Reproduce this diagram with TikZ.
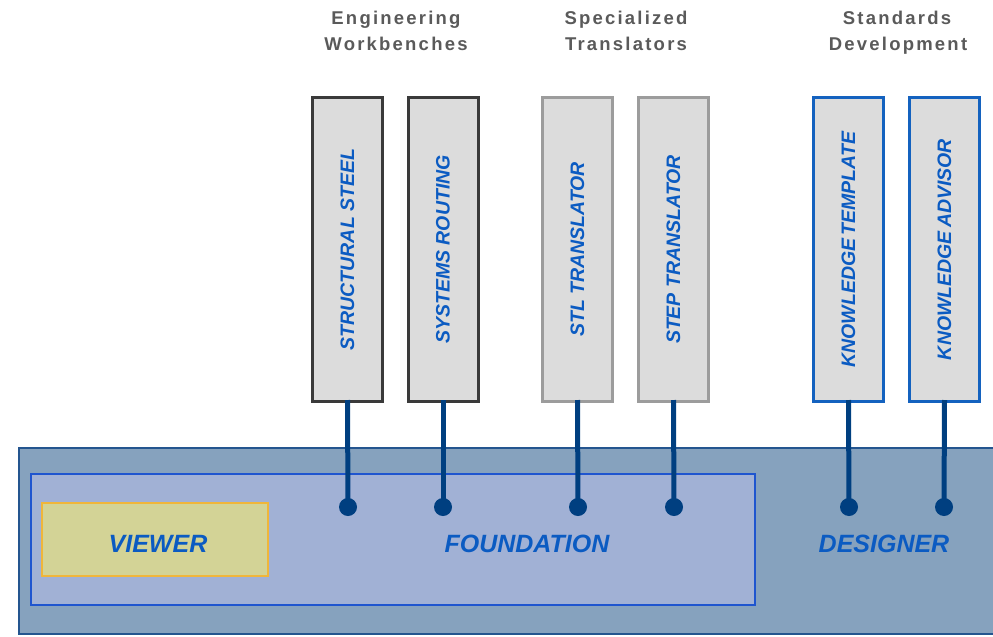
\documentclass[tikz,border=0pt]{standalone}
\usepackage{fontspec}
\setmainfont{Liberation Sans}
\newfontfamily\headfont[LetterSpace=12]{Liberation Sans}

\definecolor{platformfill}{HTML}{86A2BE}
\definecolor{platformline}{HTML}{24558F}
\definecolor{basefill}{HTML}{A1B1D5}
\definecolor{baseline}{HTML}{1F55CF}
\definecolor{viewerfill}{HTML}{D3D396}
\definecolor{viewerline}{HTML}{F0B63A}
\definecolor{modfill}{HTML}{DCDCDC}
\definecolor{darkline}{HTML}{3A3A3A}
\definecolor{greyline}{HTML}{9C9C9C}
\definecolor{blueline}{HTML}{1462BF}
\definecolor{labelblue}{HTML}{0B5BC2}
\definecolor{linkblue}{HTML}{003F80}
\definecolor{headgrey}{HTML}{5A5A5A}

\tikzset{
  modbox/.style={draw, fill=modfill, line width=3pt, inner sep=0pt,
    minimum width=70pt, minimum height=304pt,
    font=\fontsize{19.5}{19.5}\selectfont\bfseries\itshape, text=labelblue},
  workbench/.style={modbox, draw=darkline},
  translator/.style={modbox, draw=greyline},
  standard/.style={modbox, draw=blueline},
  layerlabel/.style={font=\fontsize{25}{25}\selectfont\bfseries\itshape, text=labelblue},
  heading/.style={anchor=base, text=headgrey, inner sep=0pt,
    font=\fontsize{18.5}{18.5}\selectfont\headfont\bfseries},
  pin/.style={circle, fill=linkblue, inner sep=0pt, minimum size=18pt},
  link/.style={draw=linkblue, line width=5pt}
}

\begin{document}
\begin{tikzpicture}[x=1pt, y=-1pt]
\useasboundingbox (0,0) rectangle (993,637);

% layered platform
\draw[fill=platformfill, draw=platformline, line width=2.5pt] (19,448) rectangle (1002,634);
\draw[fill=basefill, draw=baseline, line width=2.5pt] (31,474) rectangle (755,605);
\node[draw=viewerline, fill=viewerfill, line width=2.5pt, minimum width=226pt, minimum height=73pt,
      inner sep=0pt] (viewer) at (155,539.5) {};
\node[layerlabel] (viewerlabel) at (158,544) {VIEWER};
\node[layerlabel] (foundation) at (527,544) {FOUNDATION};
\node[layerlabel] (designer) at (884,544) {DESIGNER};

% group headings
\node[heading] (hwork1) at (396,24.5) {Engineering};
\node[heading] (hwork2) at (396,50) {Workbenches};
\node[heading] (htrans1) at (626,24.5) {Specialized};
\node[heading] (htrans2) at (626,50) {Translators};
\node[heading] (hstd1) at (897,24.5) {Standards};
\node[heading] (hstd2) at (898,50) {Development};

% product modules
\node[workbench] (steel) at (347.5,249.5) {\rotatebox{90}{STRUCTURAL STEEL}};
\node[workbench] (routing) at (443,249.5) {\rotatebox{90}{SYSTEMS ROUTING}};
\node[translator] (stl) at (577.5,249.5) {\rotatebox{90}{STL TRANSLATOR}};
\node[translator] (step) at (673.5,249.5) {\rotatebox{90}{STEP TRANSLATOR}};
\node[standard] (ktemplate) at (848.5,249.5) {\rotatebox{90}{KNOWLEDGE\,TEMPLATE}};
\node[standard] (kadvisor) at (944.5,249.5) {\rotatebox{90}{KNOWLEDGE\,ADVISOR}};

% attachment points
\node[pin] (psteel) at (348,507) {};
\node[pin] (prouting) at (443,507) {};
\node[pin] (pstl) at (578,507) {};
\node[pin] (pstep) at (674,507) {};
\node[pin] (pktemplate) at (849,507) {};
\node[pin] (pkadvisor) at (944,507) {};

% plug-in links
\foreach \m in {steel, routing, stl, step, ktemplate, kadvisor}
  \draw[link] ([yshift=3pt]\m.south) -- (p\m.center);
\end{tikzpicture}
\end{document}
